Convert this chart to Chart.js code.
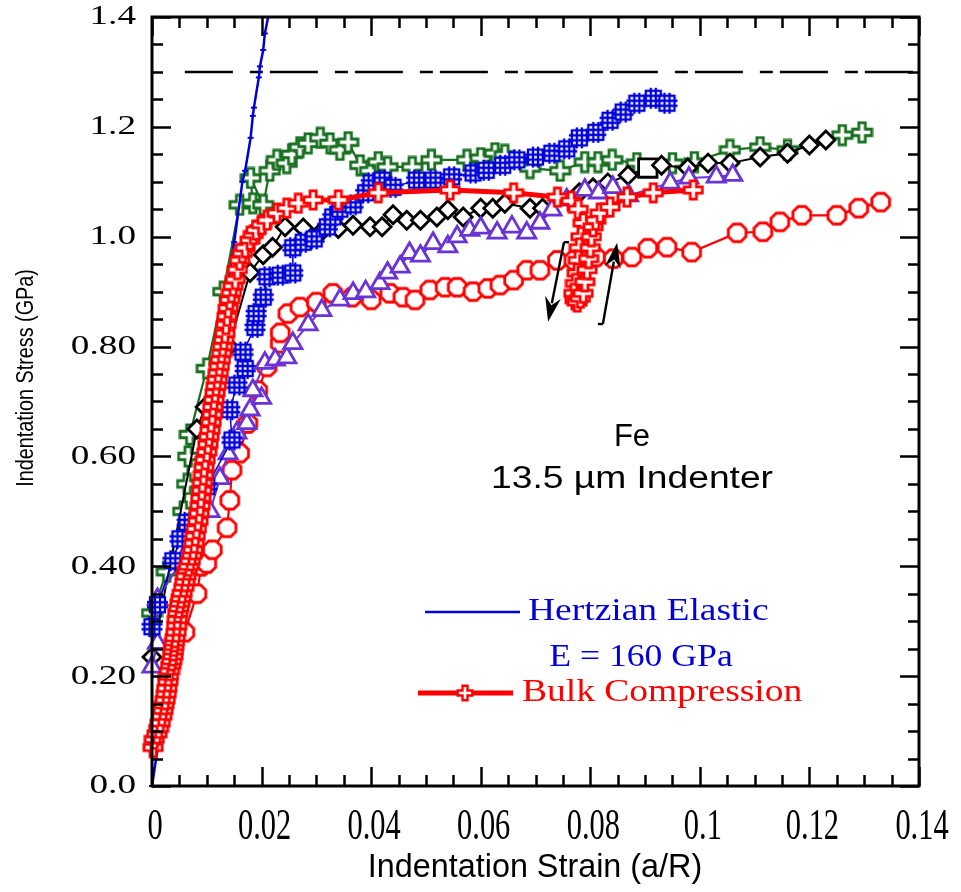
<!DOCTYPE html>
<html>
<head>
<meta charset="utf-8">
<script src="https://cdn.jsdelivr.net/npm/chart.js@4.4.1/dist/chart.umd.min.js"></script>
<style>
  html, body { margin: 0; padding: 0; background: #ffffff; }
  #wrap { width: 961px; height: 892px; }
</style>
</head>
<body>
<div id="wrap"><canvas id="c" width="961" height="892"></canvas></div>
<script>
// Axis tick labels
const xTickValues = [0, 0.02, 0.04, 0.06, 0.08, 0.1, 0.12, 0.14];
const xTickLabels = ['0', '0.02', '0.04', '0.06', '0.08', '0.1', '0.12', '0.14'];
const yTickValues = [0, 0.2, 0.4, 0.6, 0.8, 1.0, 1.2, 1.4];
const yTickLabels = ['0.0', '0.20', '0.40', '0.60', '0.80', '1.0', '1.2', '1.4'];

// Hertzian elastic prediction, E = 160 GPa  [strain, stress GPa]
const hertzian = [
  [0.0000, 0.000], [0.0030, 0.200], [0.0060, 0.400], [0.0090, 0.600],
  [0.0120, 0.790], [0.0150, 0.990], [0.0165, 1.100], [0.0170, 1.120],
  [0.0180, 1.180], [0.0184, 1.220], [0.0186, 1.235], [0.0195, 1.290],
  [0.0197, 1.310], [0.0203, 1.340], [0.0206, 1.370], [0.0212, 1.400]
];

// Indentation test 1 (green crosses)
const testGreen = [
  [0.0000, 0.315], [0.0027, 0.390], [0.0057, 0.500], [0.0064, 0.550],
  [0.0066, 0.600], [0.0069, 0.640], [0.0100, 0.760], [0.0130, 0.900],
  [0.0160, 1.058], [0.0184, 1.061], [0.0180, 1.107], [0.0203, 1.058],
  [0.0215, 1.120], [0.0228, 1.140], [0.0246, 1.134], [0.0255, 1.150],
  [0.0270, 1.163], [0.0285, 1.170], [0.0307, 1.180], [0.0325, 1.170],
  [0.0343, 1.158], [0.0358, 1.172], [0.0380, 1.130], [0.0398, 1.120],
  [0.0413, 1.136], [0.0430, 1.127], [0.0475, 1.127], [0.0510, 1.140],
  [0.0575, 1.140], [0.0600, 1.143], [0.0626, 1.152], [0.0644, 1.149],
  [0.0690, 1.125], [0.0745, 1.120], [0.0790, 1.136], [0.0814, 1.136],
  [0.0840, 1.140], [0.0885, 1.134], [0.0950, 1.134], [0.0990, 1.136],
  [0.1055, 1.158], [0.1110, 1.163], [0.1160, 1.158], [0.1260, 1.185],
  [0.1296, 1.190]
];

// Indentation test 2 (blue hatched squares)
const testBlue = [
  [0.0000, 0.290], [0.0010, 0.330], [0.0038, 0.410], [0.0051, 0.450],
  [0.0064, 0.480], [0.0100, 0.545], [0.0146, 0.630], [0.0142, 0.685],
  [0.0155, 0.730], [0.0170, 0.760], [0.0166, 0.790], [0.0188, 0.835],
  [0.0190, 0.860], [0.0203, 0.890], [0.0210, 0.927], [0.0234, 0.930],
  [0.0257, 0.934], [0.0257, 0.980], [0.0276, 0.990], [0.0296, 0.996],
  [0.0320, 1.018], [0.0330, 1.036], [0.0343, 1.050], [0.0367, 1.058],
  [0.0390, 1.080], [0.0400, 1.098], [0.0420, 1.103], [0.0440, 1.090],
  [0.0483, 1.103], [0.0513, 1.103], [0.0547, 1.109], [0.0586, 1.116],
  [0.0610, 1.121], [0.0640, 1.130], [0.0666, 1.140], [0.0700, 1.145],
  [0.0730, 1.152], [0.0757, 1.160], [0.0780, 1.180], [0.0810, 1.190],
  [0.0836, 1.212], [0.0860, 1.227], [0.0885, 1.243], [0.0915, 1.252],
  [0.0940, 1.243]
];

// Indentation test 3 (black diamonds)
const testBlack = [
  [0.0000, 0.235], [0.0082, 0.650], [0.0097, 0.690], [0.0140, 0.800],
  [0.0179, 0.935], [0.0203, 0.967], [0.0220, 0.981], [0.0243, 1.018],
  [0.0276, 1.016], [0.0310, 1.010], [0.0340, 1.015], [0.0367, 1.021],
  [0.0398, 1.018], [0.0420, 1.018], [0.0440, 1.040], [0.0465, 1.030],
  [0.0490, 1.030], [0.0520, 1.036], [0.0540, 1.049], [0.0568, 1.036],
  [0.0600, 1.052], [0.0622, 1.052], [0.0644, 1.061], [0.0690, 1.052],
  [0.0713, 1.052], [0.0780, 1.080], [0.0805, 1.089], [0.0832, 1.098],
  [0.0869, 1.112], [0.0905, 1.125], [0.0930, 1.130], [0.0978, 1.125],
  [0.1015, 1.134], [0.1055, 1.134], [0.1110, 1.145], [0.1160, 1.152],
  [0.1200, 1.167], [0.1230, 1.176]
];
const blackSquareIndex = 29;

// Indentation test 4 (purple triangles)
const testPurple = [
  [0.0000, 0.217], [0.0010, 0.260], [0.0010, 0.340], [0.0060, 0.420],
  [0.0106, 0.500], [0.0124, 0.560], [0.0139, 0.605], [0.0155, 0.643],
  [0.0173, 0.660], [0.0179, 0.685], [0.0200, 0.706], [0.0184, 0.720],
  [0.0206, 0.770], [0.0225, 0.776], [0.0246, 0.780], [0.0257, 0.806],
  [0.0285, 0.840], [0.0310, 0.866], [0.0343, 0.885], [0.0367, 0.897],
  [0.0390, 0.900], [0.0416, 0.915], [0.0430, 0.934], [0.0453, 0.945],
  [0.0470, 0.970], [0.0490, 0.965], [0.0513, 0.988], [0.0540, 0.982],
  [0.0557, 1.000], [0.0580, 1.012], [0.0600, 1.016], [0.0630, 1.007],
  [0.0657, 1.018], [0.0684, 1.007], [0.0708, 1.025], [0.0730, 1.049],
  [0.0757, 1.067], [0.0790, 1.085], [0.0815, 1.080], [0.0841, 1.090],
  [0.0870, 1.075], [0.0946, 1.098], [0.0980, 1.107], [0.1030, 1.109],
  [0.1060, 1.112]
];

// Indentation test 5 (red octagons)
const testRed = [
  [0.0060, 0.280], [0.0082, 0.350], [0.0090, 0.400], [0.0100, 0.405],
  [0.0110, 0.430], [0.0137, 0.470], [0.0142, 0.520], [0.0146, 0.575],
  [0.0160, 0.606], [0.0175, 0.660], [0.0193, 0.720], [0.0210, 0.763],
  [0.0234, 0.806], [0.0234, 0.825], [0.0248, 0.860], [0.0270, 0.872],
  [0.0300, 0.881], [0.0330, 0.897], [0.0365, 0.890], [0.0400, 0.885],
  [0.0434, 0.897], [0.0458, 0.890], [0.0480, 0.885], [0.0507, 0.903],
  [0.0535, 0.908], [0.0557, 0.908], [0.0586, 0.900], [0.0613, 0.906],
  [0.0635, 0.912], [0.0660, 0.921], [0.0684, 0.939], [0.0708, 0.939],
  [0.0740, 0.957], [0.0770, 0.957], [0.0810, 0.963], [0.0842, 0.960],
  [0.0876, 0.963], [0.0905, 0.979], [0.0940, 0.981], [0.0985, 0.972],
  [0.1068, 1.007], [0.1115, 1.009], [0.1146, 1.027], [0.1186, 1.039],
  [0.1250, 1.039], [0.1290, 1.052], [0.1330, 1.063]
];

// Bulk compression, including the unload / reload loop
const bulkCompression = [
  [0.0002, 0.070], [0.0004, 0.085], [0.0009, 0.095], [0.0012, 0.105],
  [0.0015, 0.115], [0.0018, 0.127], [0.0020, 0.138], [0.0022, 0.148],
  [0.0024, 0.157], [0.0026, 0.168], [0.0027, 0.178], [0.0029, 0.190],
  [0.0030, 0.200], [0.0032, 0.210], [0.0034, 0.220], [0.0036, 0.228],
  [0.0038, 0.237], [0.0039, 0.246], [0.0040, 0.254], [0.0041, 0.262],
  [0.0042, 0.270], [0.0044, 0.280], [0.0045, 0.292], [0.0046, 0.303],
  [0.0047, 0.315], [0.0049, 0.324], [0.0051, 0.333], [0.0053, 0.342],
  [0.0055, 0.351], [0.0058, 0.362], [0.0060, 0.372], [0.0062, 0.382],
  [0.0064, 0.393], [0.0067, 0.400], [0.0070, 0.410], [0.0073, 0.420],
  [0.0075, 0.430], [0.0077, 0.442], [0.0079, 0.455], [0.0081, 0.468],
  [0.0084, 0.482], [0.0086, 0.496], [0.0088, 0.510], [0.0089, 0.524],
  [0.0091, 0.538], [0.0092, 0.552], [0.0094, 0.566], [0.0095, 0.580],
  [0.0097, 0.594], [0.0100, 0.608], [0.0102, 0.622], [0.0104, 0.636],
  [0.0106, 0.648], [0.0108, 0.662], [0.0110, 0.676], [0.0111, 0.690],
  [0.0113, 0.703], [0.0115, 0.716], [0.0117, 0.728], [0.0119, 0.740],
  [0.0121, 0.752], [0.0123, 0.764], [0.0125, 0.776], [0.0127, 0.788],
  [0.0129, 0.800], [0.0131, 0.812], [0.0133, 0.824], [0.0135, 0.840],
  [0.0137, 0.855], [0.0139, 0.870], [0.0142, 0.885], [0.0145, 0.898],
  [0.0148, 0.910], [0.0152, 0.922], [0.0156, 0.940], [0.0160, 0.957],
  [0.0165, 0.970], [0.0170, 0.980], [0.0179, 0.994], [0.0185, 1.004],
  [0.0190, 1.012], [0.0200, 1.022], [0.0210, 1.030], [0.0228, 1.043],
  [0.0246, 1.052], [0.0267, 1.061], [0.0294, 1.067], [0.0340, 1.067],
  [0.0413, 1.080], [0.0544, 1.085], [0.0660, 1.080], [0.0740, 1.072],
  [0.0765, 1.065], [0.0778, 1.050], [0.0787, 1.025], [0.0783, 1.000],
  [0.0780, 0.980], [0.0778, 0.957], [0.0776, 0.934], [0.0773, 0.915],
  [0.0770, 0.897], [0.0772, 0.885], [0.0776, 0.881], [0.0782, 0.888],
  [0.0787, 0.897], [0.0790, 0.918], [0.0794, 0.940], [0.0797, 0.960],
  [0.0800, 0.980], [0.0802, 1.000], [0.0805, 1.018], [0.0810, 1.030],
  [0.0818, 1.043], [0.0836, 1.054], [0.0867, 1.072], [0.0915, 1.080],
  [0.0988, 1.085]
];

// Reference stress level
const dashedLevel = [[0.006, 1.3], [0.14, 1.3]];

// Unload and reload direction arrows [tail, head]
const arrowUnload = [[0.0752, 0.990], [0.0723, 0.845]];
const arrowReload = [[0.0823, 0.841], [0.0849, 0.989]];

const GREEN = '#17701f';
const BLUE = '#0000dd';
const PURPLE = '#6a33d6';
const RED = '#ff0000';
const BLACK = '#000000';

// ---------- marker sprites ----------
function sprite(size, draw) {
  const c = document.createElement('canvas');
  c.width = size; c.height = size;
  const g = c.getContext('2d');
  draw(g, size);
  return c;
}
function openCross(color, size, lw) {
  return sprite(size, (g, s) => {
    const c = s / 2, r = s / 2 - lw / 2 - 0.5, w = r * 0.34;
    g.beginPath();
    g.moveTo(c - w, c - r); g.lineTo(c + w, c - r); g.lineTo(c + w, c - w);
    g.lineTo(c + r, c - w); g.lineTo(c + r, c + w); g.lineTo(c + w, c + w);
    g.lineTo(c + w, c + r); g.lineTo(c - w, c + r); g.lineTo(c - w, c + w);
    g.lineTo(c - r, c + w); g.lineTo(c - r, c - w); g.lineTo(c - w, c - w);
    g.closePath();
    g.fillStyle = '#ffffff'; g.fill();
    g.lineWidth = lw; g.strokeStyle = color; g.lineJoin = 'miter'; g.stroke();
  });
}
function hatchSquare(color, size, lw) {
  return sprite(size, (g, s) => {
    const a = 4, b = s - 4, t1 = a + (b - a) / 3, t2 = a + 2 * (b - a) / 3;
    g.fillStyle = '#ffffff'; g.fillRect(a, a, b - a, b - a);
    g.strokeStyle = color; g.lineWidth = lw;
    g.strokeRect(a, a, b - a, b - a);
    g.beginPath();
    g.moveTo(t1, 1); g.lineTo(t1, s - 1);
    g.moveTo(t2, 1); g.lineTo(t2, s - 1);
    g.moveTo(1, t1); g.lineTo(s - 1, t1);
    g.moveTo(1, t2); g.lineTo(s - 1, t2);
    g.stroke();
  });
}
function octagon(color, size, lw) {
  return sprite(size, (g, s) => {
    const c = s / 2, r = s / 2 - lw / 2 - 0.5;
    g.beginPath();
    for (let i = 0; i < 8; i++) {
      const ang = Math.PI / 8 + i * Math.PI / 4;
      const px = c + r * Math.cos(ang), py = c + r * Math.sin(ang);
      if (i === 0) g.moveTo(px, py); else g.lineTo(px, py);
    }
    g.closePath();
    g.fillStyle = '#ffffff'; g.fill();
    g.lineWidth = lw; g.strokeStyle = color; g.stroke();
  });
}

const greenCross = openCross(GREEN, 23, 2.8);
const redCross = openCross(RED, 22, 2.8);
const blueHatch = hatchSquare(BLUE, 23, 2.3);
const redOct = octagon(RED, 23, 2.9);

function pts(arr) { return arr.map(p => ({ x: p[0], y: p[1] })); }

// ---------- decoration: frame, inward ticks, labels, legend, notes ----------
function drawText(ctx, text, x, y, font, color, sx, sy, align, rot) {
  ctx.save();
  ctx.translate(x, y);
  if (rot) ctx.rotate(rot);
  ctx.scale(sx, sy);
  ctx.font = font;
  ctx.fillStyle = color;
  ctx.textAlign = align || 'center';
  ctx.textBaseline = 'middle';
  ctx.fillText(text, 0, 0);
  ctx.restore();
}

const decor = {
  id: 'decor',
  afterDatasetsDraw(chart) {
    const { ctx, chartArea: a, scales: { x, y } } = chart;
    ctx.save();
    // arrows
    [arrowUnload, arrowReload].forEach((arr, k) => {
      const x0 = x.getPixelForValue(arr[0][0]), y0 = y.getPixelForValue(arr[0][1]);
      const x1 = x.getPixelForValue(arr[1][0]), y1 = y.getPixelForValue(arr[1][1]);
      const ang = Math.atan2(y1 - y0, x1 - x0);
      const L = 25, W = 8;
      ctx.strokeStyle = BLACK; ctx.fillStyle = BLACK; ctx.lineWidth = 2.4;
      ctx.beginPath();
      ctx.moveTo(x0, y0);
      ctx.lineTo(x1 - (L - 6) * Math.cos(ang), y1 - (L - 6) * Math.sin(ang));
      ctx.stroke();
      ctx.beginPath();
      ctx.moveTo(x0, y0);
      ctx.lineTo(x0 + (k === 0 ? 5 : -5), y0);
      ctx.stroke();
      const bx = x1 - L * Math.cos(ang), by = y1 - L * Math.sin(ang);
      const nx = -Math.sin(ang), ny = Math.cos(ang);
      const mx = x1 - (L - 8) * Math.cos(ang), my = y1 - (L - 8) * Math.sin(ang);
      ctx.beginPath();
      ctx.moveTo(x1, y1);
      ctx.lineTo(bx + nx * W, by + ny * W);
      ctx.lineTo(mx, my);
      ctx.lineTo(bx - nx * W, by - ny * W);
      ctx.closePath();
      ctx.fill();
    });

    // frame
    ctx.strokeStyle = BLACK;
    ctx.lineWidth = 3;
    ctx.strokeRect(a.left, a.top, a.right - a.left, a.bottom - a.top);

    // inward ticks on all four sides
    ctx.lineWidth = 2.5;
    ctx.beginPath();
    for (let i = 0; i <= 28; i++) {
      const v = i * 0.005;
      const px = Math.round(x.getPixelForValue(v)) + 0.5;
      const len = (i % 4 === 0) ? 19 : 11;
      ctx.moveTo(px, a.bottom); ctx.lineTo(px, a.bottom - len);
      ctx.moveTo(px, a.top); ctx.lineTo(px, a.top + len);
    }
    for (let i = 0; i <= 28; i++) {
      const v = i * 0.05;
      const py = Math.round(y.getPixelForValue(v)) + 0.5;
      const len = (i % 4 === 0) ? 19 : 11;
      ctx.moveTo(a.left, py); ctx.lineTo(a.left + len, py);
      ctx.moveTo(a.right, py); ctx.lineTo(a.right - len, py);
    }
    ctx.stroke();

    // tick labels
    xTickValues.forEach((v, i) => {
      drawText(ctx, xTickLabels[i], x.getPixelForValue(v) + 3, a.bottom + 41,
        '32px "Liberation Serif"', BLACK, 0.95, 1.4, 'center');
    });
    yTickValues.forEach((v, i) => {
      drawText(ctx, yTickLabels[i], 136, y.getPixelForValue(v),
        '28px "Liberation Serif"', BLACK, 1.33, 1.0, 'right');
    });

    // axis titles
    drawText(ctx, 'Indentation Strain (a/R)', 535, 868,
      '33px "Liberation Sans"', BLACK, 0.98, 1.0, 'center');
    drawText(ctx, 'Indentation Stress (GPa)', 27, 378,
      '23px "Liberation Sans"', BLACK, 0.86, 1.0, 'center', -Math.PI / 2);

    // notes
    drawText(ctx, 'Fe', 632, 437, '31px "Liberation Sans"', BLACK, 1.0, 1.0, 'center');
    drawText(ctx, '13.5 \u00b5m Indenter', 632, 479, '31px "Liberation Sans"', BLACK, 1.2, 1.0, 'center');

    // legend
    ctx.strokeStyle = BLUE; ctx.lineWidth = 2.5;
    ctx.beginPath(); ctx.moveTo(425, 612); ctx.lineTo(520, 612); ctx.stroke();
    drawText(ctx, 'Hertzian Elastic', 528, 612, '31px "Liberation Serif"', BLUE, 1.21, 1.0, 'left');
    drawText(ctx, 'E = 160 GPa', 641, 658, '31px "Liberation Serif"', BLUE, 1.15, 1.0, 'center');
    ctx.strokeStyle = RED; ctx.lineWidth = 5;
    ctx.beginPath(); ctx.moveTo(418, 693); ctx.lineTo(513, 693); ctx.stroke();
    const lc = openCross(RED, 18, 2.4);
    ctx.drawImage(lc, 465 - lc.width / 2, 693 - lc.height / 2);
    drawText(ctx, 'Bulk Compression', 522, 693, '31px "Liberation Serif"', RED, 1.21, 1.0, 'left');
    ctx.restore();
  }
};

const common = { showLine: true, fill: false, tension: 0, pointHitRadius: 0 };

new Chart(document.getElementById('c'), {
  type: 'scatter',
  data: {
    datasets: [
      Object.assign({}, common, {
        label: 'Bulk Compression', data: pts(bulkCompression),
        borderColor: RED, borderWidth: 5, pointStyle: redCross, pointRadius: 10
      }),
      Object.assign({}, common, {
        label: 'Hertzian Elastic', data: pts(hertzian),
        borderColor: BLUE, borderWidth: 2.5, pointStyle: 'line', pointRadius: 3,
        pointBorderColor: BLUE, pointBorderWidth: 2
      }),
      Object.assign({}, common, {
        label: 'Test 2', data: pts(testBlue),
        borderColor: BLUE, borderWidth: 1.5, pointStyle: blueHatch, pointRadius: 11
      }),
      Object.assign({}, common, {
        label: 'Test 4', data: pts(testPurple),
        borderColor: PURPLE, borderWidth: 2, pointStyle: 'triangle', pointRadius: 10.5,
        pointBorderColor: PURPLE, pointBackgroundColor: '#ffffff', pointBorderWidth: 2.8
      }),
      Object.assign({}, common, {
        label: 'Test 3', data: pts(testBlack),
        borderColor: BLACK, borderWidth: 2,
        pointStyle: testBlack.map((p, i) => i === blackSquareIndex ? 'rect' : 'rectRot'),
        pointRadius: testBlack.map((p, i) => i === blackSquareIndex ? 13 : 9),
        pointBorderColor: BLACK, pointBackgroundColor: '#ffffff', pointBorderWidth: 2.8
      }),
      Object.assign({}, common, {
        label: 'Test 5', data: pts(testRed),
        borderColor: RED, borderWidth: 2.2, pointStyle: redOct, pointRadius: 11
      }),
      Object.assign({}, common, {
        label: 'Test 1', data: pts(testGreen),
        borderColor: GREEN, borderWidth: 2.2, pointStyle: greenCross, pointRadius: 11
      }),
      Object.assign({}, common, {
        label: 'Level', data: pts(dashedLevel),
        borderColor: BLACK, borderWidth: 2.5, borderDash: [48, 17, 13, 7],
        pointRadius: 0
      })
    ]
  },
  options: {
    responsive: false,
    animation: false,
    devicePixelRatio: 1,
    layout: { padding: { left: 152, right: 42, top: 17, bottom: 106 } },
    plugins: { legend: { display: false }, tooltip: { enabled: false } },
    scales: {
      x: { type: 'linear', min: 0, max: 0.14, display: false },
      y: { type: 'linear', min: 0, max: 1.4, display: false }
    },
    clip: false
  },
  plugins: [decor]
});
</script>
</body>
</html>
